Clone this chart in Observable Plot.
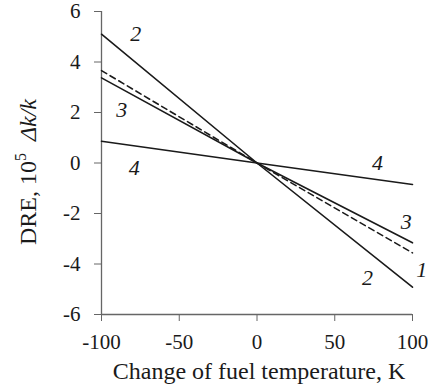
<!DOCTYPE html>
<html>
<head>
<meta charset="utf-8">
<script src="https://cdn.jsdelivr.net/npm/d3@7"></script>
<script src="https://cdn.jsdelivr.net/npm/@observablehq/plot@0.6"></script>
<style>
  html, body { margin: 0; padding: 0; background: #fff; }
  svg, svg text, svg tspan { font-family: "Liberation Serif", "Times New Roman", serif !important; font-variant: normal !important; }
</style>
</head>
<body>
<div id="chart"></div>
<script>
// Change of fuel temperature, K
const temps = [-100, 0, 100];
// DRE values (10^5 Δk/k) for curves 1..4
const curve1 = [3.66, 0, -3.56];   // dashed
const curve2 = [5.1, 0, -4.92];
const curve3 = [3.37, 0, -3.16];
const curve4 = [0.86, 0, -0.85];
const xTicks = [-100, -50, 0, 50, 100];
const yTicks = [-6, -4, -2, 0, 2, 4, 6];
// curve labels in data coordinates
const labelText = ["2", "3", "4", "4", "3", "1", "2"];
const labelX = [-78, -87, -79, 77.5, 96, 106, 71];
const labelY = [5.1, 2.1, -0.2, 0.0, -2.35, -4.25, -4.55];

const series = [
  {name: "1", values: curve1, dash: "6,4"},
  {name: "2", values: curve2, dash: null},
  {name: "3", values: curve3, dash: null},
  {name: "4", values: curve4, dash: null}
];
const rows = series.flatMap(s => temps.map((t, i) => ({series: s.name, t, v: s.values[i]})));
const labels = labelText.map((s, i) => ({s, x: labelX[i], y: labelY[i]}));

const ink = "#1a1a1a";
const serif = "Liberation Serif";
const plot = Plot.plot({
  width: 428,
  height: 385,
  marginLeft: 101,
  marginRight: 16,
  marginTop: 11,
  marginBottom: 71,
  x: {domain: [-100, 100]},
  y: {domain: [-6, 6]},
  style: {fontFamily: serif, background: "#fff", overflow: "visible"},
  marks: [
    Plot.axisX({ticks: xTicks, tickSize: 7, tickPadding: 13, tickFormat: d => String(d), label: null, fontSize: 21, fontFamily: serif, stroke: "#666", color: ink}),
    Plot.axisY({ticks: yTicks, tickSize: 7, tickPadding: 14, tickFormat: d => String(d), label: null, fontSize: 21, fontFamily: serif, stroke: "#666", color: ink}),
    Plot.ruleX([-100], {stroke: "#666", strokeWidth: 1.3}),
    Plot.ruleY([-6], {stroke: "#666", strokeWidth: 1.3}),
    ...series.map(s => Plot.line(rows.filter(r => r.series === s.name), {
      x: "t", y: "v", stroke: ink, strokeWidth: 1.6, strokeDasharray: s.dash
    })),
    Plot.text(labels, {x: "x", y: "y", text: "s", fontSize: 22, fontStyle: "italic", fontFamily: serif, fill: ink})
  ]
});
document.getElementById("chart").appendChild(plot);

const svg = d3.select(plot);
svg.selectAll("text").attr("font-family", serif).style("font-family", serif);
// x axis title
svg.append("text")
  .attr("x", 259).attr("y", 379)
  .attr("text-anchor", "middle")
  .attr("font-size", 24)
  .attr("font-family", serif)
  .attr("fill", ink)
  .text("Change of fuel temperature, K");
// y axis title
const yt = svg.append("text")
  .attr("transform", "translate(36,172) rotate(-90)")
  .attr("text-anchor", "middle")
  .attr("font-size", 24)
  .attr("font-family", serif)
  .attr("fill", ink);
yt.append("tspan").text("DRE, 10");
yt.append("tspan").attr("dy", -10).attr("font-size", 16).text("5");
yt.append("tspan").attr("dy", 10).text("\u00a0\u00a0");
yt.append("tspan").attr("font-style", "italic").text("\u0394k/k");
</script>
</body>
</html>
